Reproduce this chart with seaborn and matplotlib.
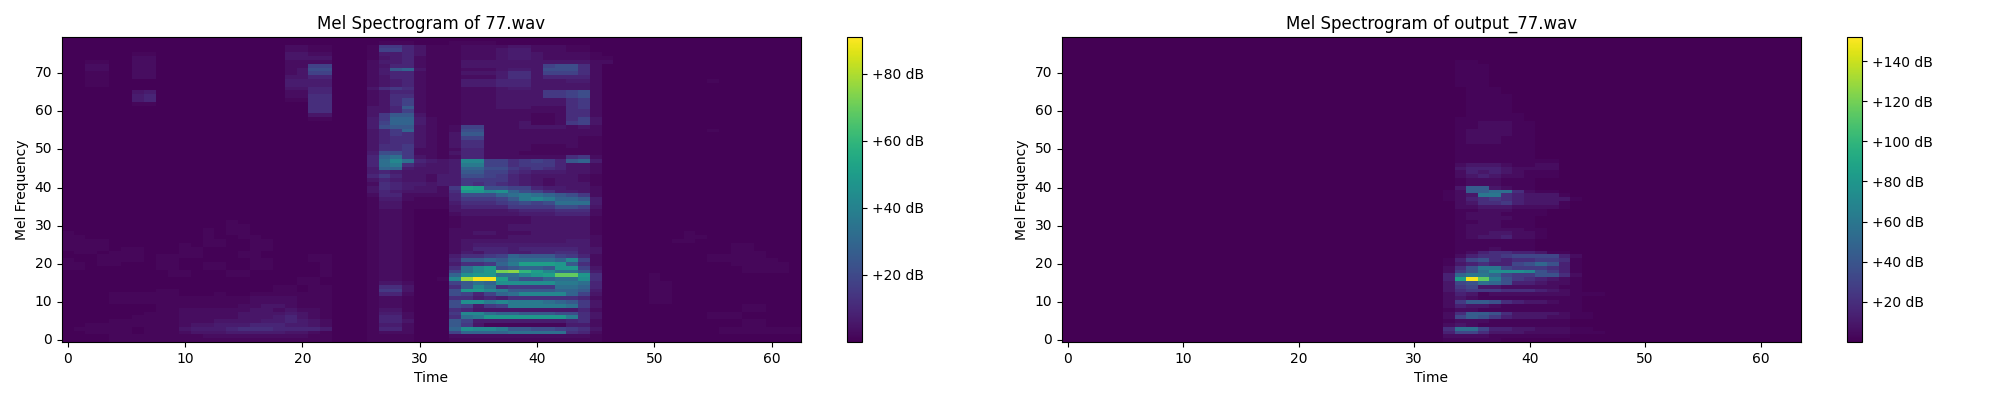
import numpy as np
import seaborn as sns
import matplotlib.pyplot as plt

# Values, one base-36 digit per frame, looked up in the
# level tables below. Top row is mel band 79.
input_title = "Mel Spectrogram of 77.wav"
output_title = "Mel Spectrogram of output_77.wav"
input_vmax = 91
output_vmax = 152
input_cbar_ticks = [20, 40, 60, 80]
output_cbar_ticks = [20, 40, 60, 80, 100, 120, 140]
time_ticks = [0, 10, 20, 30, 40, 50, 60]
mel_ticks = [0, 10, 20, 30, 40, 50, 60, 70]

input_level_db = [0.5, 1.5, 3, 5, 7, 9.5, 12, 15, 18, 21, 25, 29, 33, 37, 42, 45,
                  48, 51, 54, 57, 60, 63, 66, 69, 72, 75, 78, 81, 84, 87, 90]
output_level_db = [0, 2, 5, 9, 14, 20, 26, 32, 38, 44, 50, 55, 60, 65, 70, 75,
                   80, 85, 90, 95, 100, 105, 110, 115, 120, 125, 130, 135, 140, 145, 150]

input_rows = [
    "0000000000 0000000000 0000000000 0000000000 0000000000 0000000000 000",
    "0000000000 0000000000 0000000111 0001111000 0000000000 0000000000 000",
    "0000000000 0000000002 2110001775 3111222233 2221100000 0000000000 000",
    "0000000000 0000000002 2110001885 3111222344 2221100000 0000000000 000",
    "0000001100 0000000003 3220001445 3111222344 3222210000 0000000000 000",
    "0000002200 0000000003 3330001345 2111222344 3222211000 0000000000 000",
    "0011002200 0000000002 2220002445 2111333333 3333322000 0000000000 000",
    "0022002200 0000000002 2880002355 2111333333 3899620000 0000000000 000",
    "0022002200 0000000002 3990002 4ab 3111222344 3999620000 0000000000 000",
    "0011002200 0000000002 3880002455 2111333466 3888620000 0000000000 000",
    "0011002200 0000000003 3550002355 2111222466 3555520000 0000000000 000",
    "0011000000 0000000004 4440002345 2111444555 3334420000 0000010000 000",
    "0011000000 0000000004 4440002345 2111444555 3333320000 0000000000 000",
    "0000000000 0000000003 3550003676 2111222344 3333320000 0000000000 000",
    "0000003400 0000000002 2550002355 2111222333 3778920000 0000000000 000",
    "0000004500 0000000002 2660002366 2111222333 3778920000 0000000000 000",
    "0000004500 0000000001 1660002368 2111222333 3336720000 0000000000 000",
    "0000001100 0000000000 0660002368 2111222333 3336720000 0000000000 000",
    "0000000000 0000000000 066000335a 2111222333 2226720000 0000000000 000",
    "0000000000 0000000000 0660003358 2111222222 2226620000 0000000000 000",
    "0000000000 0000000000 033000 37aa 3111222222 1126620000 0000000000 000",
    "0000000000 0000000000 011000 47bb 4211222222 1126830000 0000000000 000",
    "0000000000 0000000000 000000 48bb 4211222223 1127830000 0000000000 000",
    "0000000000 0000000000 000000 49aa 3212882223 3332320000 0000000000 000",
    "0000000000 0000000000 000000 357b 3212992222 2222220000 0000010000 000",
    "0000000000 0000000000 000000 3576 3213aa2222 2222220000 0000000000 000",
    "0000000000 0000000000 000000 3566 3213882222 2222110000 0000000000 000",
    "0000000000 0000000000 000000 3566 3213662222 2222110000 0000000000 000",
    "0000000000 0000000000 000000 3667 3213662222 1112110000 0000000000 000",
    "0000000000 0000000000 000000 3667 2212552222 1111110000 0000000000 000",
    "0000000000 0000000000 000000 4997 2213552221 1111110000 0000000000 000",
    "0000000000 0000000000 000000 5bc7 3212552222 2226720000 0000000000 000",
    "0000000000 0000000000 000000 5cec 5434ee8867 875ab40000 0000000000 000",
    "0000000000 0000000000 000000 5cd6 4334dd8867 7753320000 0000000000 000",
    "0000000000 0000000000 000000 4bb4 3334bb9976 7653320000 0000000000 000",
    "0000000000 0000000000 000000 4543 3334aa8865 4443320000 0000000000 000",
    "0000000000 0000000000 000000 5753 3244998754 3333210000 0000000000 000",
    "0000000000 0000000000 000000 3543 3244777754 3233210000 0000000000 000",
    "0000000000 0000000000 000000 2654 4344767654 3233310000 0000000000 000",
    "0000000000 0000000000 000000 3654 3327ih9988 5443320000 0000000000 000",
    "0000000000 0000000000 000000 3543 3326ggefb9 8644320000 0000000000 000",
    "0000000000 0000000000 000000 2552 2225999bcd cba9720000 0000000000 000",
    "0000000000 0000000000 000000 1442 1115777 8ad edbba40000 0000000000 000",
    "0000000000 0000000000 000000 1331 1114666789 89ccc40000 0000000000 000",
    "0000000000 0000000000 000000 1331 1113555577 7799830000 0000000000 000",
    "0000000000 0000000000 000000 1221 0003333345 5566620000 0000000000 000",
    "0000000000 0000000000 000000 1221 0002333334 4455520000 0000000000 000",
    "0000000000 0000000000 000000 1221 0001222222 3333310000 0000000000 000",
    "0000000000 0000100000 000000 1221 0001222222 3333310000 0000000000 000",
    "0000000000 0000110000 000000 1221 0001222233 3333310000 0000000000 000",
    "0000000000 0010110000 000000 1221 0002222233 3333310000 0000000000 000",
    "1000000000 0010110000 000000 1221 0002233222 3333310000 0001000000 000",
    "1100000000 0010011000 000000 1221 0002222233 3333320000 0001100000 000",
    "1111000000 0011001100 000000 1221 0002333333 3334420000 0011000000 000",
    "1111000000 1011001100 000000 1221 0002344444 4444420000 0000000110 000",
    "1111011000 1100001100 000000 1221 0002355545 5555430000 0000000110 000",
    "0110111000 1100011000 000000 1221 0002435544 5566430000 0000000111 000",
    "0001111011 1100011000 011000 1221 0004667 8ba aa87520000 0000011111 000",
    "1001111011 0000001100 011000 1221 0005aabacc ccbe820000 0000011111 100",
    "1101100011 0011001100 001000 1221 0004667bdh hhga620000 0000000111 110",
    "1100000011 0011001100 001000 1221 0006ceg9ab bagg830000 0000000011 110",
    "0000000001 1000110000 001000 1221 0008cegopk hecca40000 0000000011 110",
    "0000000001 1000110000 001000 1221 000bfggcce ghnng60000 1000000000 000",
    "0000000000 0000000000 110000 1221 001equuhb9 9bccf60000 1000000000 000",
    "0000000000 0000000000 110000 1332 0008acbfff ffddc50000 1100000000 000",
    "0000000000 0000000011 011000 1663 0006aec677 77ccb50000 1100000000 000",
    "0000000011 0000000011 011000 1773 0009ggedaa aabba40000 1100000000 000",
    "0000111111 0001001111 111000 1552 000985 8bce eeeb830000 1100000000 000",
    "0000111111 1111112222 111000 1221 0006645466 6666520000 1100000000 000",
    "0000111111 1111112222 111000 1221 0009ffdedd dcba730000 1100000000 000",
    "0000000011 1111122332 111000 1221 0009847 8dd dddc730000 0000000011 000",
    "0000000011 2222223323 221000 1331 0006533333 3333520000 0000000011 000",
    "0000000111 2222233334 321000 1442 0007eecbba aa99630000 0000011100 000",
    "0000001111 2222233345 321000 1552 0006cdgggg gggd630000 0000011100 000",
    "0000111111 2223333445 432000 1553 000a844444 4445620000 0000000011 000",
    "0011111111 2334445554 432000 1442 000a731111 1114420000 0000000011 000",
    "0111110111 3444566655 554000 1552 000bfeedaa 9987630000 0000001111 111",
    "0011110111 2333444443 321000 1222 0008bbbbcc ccc6520000 0000001111 111",
    "0000111111 1122222222 211000 1111 0002222222 2222210000 0000000000 000",
    "0000111111 1111111111 111000 1111 0001111111 1111110000 0000000000 000",
]

output_rows = [
    "0000000000 0000000000 0000000000 0000000000 0000000000 0000000000 0000",
    "0000000000 0000000000 0000000000 0000000000 0000000000 0000000000 0000",
    "0000000000 0000000000 0000000000 0000000000 0000000000 0000000000 0000",
    "0000000000 0000000000 0000000000 0000000000 0000000000 0000000000 0000",
    "0000000000 0000000000 0000000000 0000000000 0000000000 0000000000 0000",
    "0000000000 0000000000 0000000000 0000000000 0000000000 0000000000 0000",
    "0000000000 0000000000 0000000000 0000110000 0000000000 0000000000 0000",
    "0000000000 0000000000 0000000000 0000111000 0000000000 0000000000 0000",
    "0000000000 0000000000 0000000000 0000111000 0000000000 0000000000 0000",
    "0000000000 0000000000 0000000000 0000111000 0000000000 0000000000 0000",
    "0000000000 0000000000 0000000000 0000111000 0000000000 0000000000 0000",
    "0000000000 0000000000 0000000000 0000111000 0000000000 0000000000 0000",
    "0000000000 0000000000 0000000000 0000111000 0000000000 0000000000 0000",
    "0000000000 0000000000 0000000000 0000011100 0000000000 0000000000 0000",
    "0000000000 0000000000 0000000000 0000011100 0000000000 0000000000 0000",
    "0000000000 0000000000 0000000000 0000011110 0000000000 0000000000 0000",
    "0000000000 0000000000 0000000000 0000011110 0000000000 0000000000 0000",
    "0000000000 0000000000 0000000000 0000011110 0000000000 0000000000 0000",
    "0000000000 0000000000 0000000000 0000011110 0000000000 0000000000 0000",
    "0000000000 0000000000 0000000000 0000011110 0000000000 0000000000 0000",
    "0000000000 0000000000 0000000000 0000011111 0000000000 0000000000 0000",
    "0000000000 0000000000 0000000000 0000111111 0000000000 0000000000 0000",
    "0000000000 0000000000 0000000000 0000112221 1000000000 0000000000 0000",
    "0000000000 0000000000 0000000000 0000112221 1000000000 0000000000 0000",
    "0000000000 0000000000 0000000000 0000122221 1000000000 0000000000 0000",
    "0000000000 0000000000 0000000000 0000122221 1000000000 0000000000 0000",
    "0000000000 0000000000 0000000000 0000122211 1000000000 0000000000 0000",
    "0000000000 0000000000 0000000000 0000122211 1000000000 0000000000 0000",
    "0000000000 0000000000 0000000000 0000111111 1000000000 0000000000 0000",
    "0000000000 0000000000 0000000000 0000111111 1000000000 0000000000 0000",
    "0000000000 0000000000 0000000000 0000111111 1000000000 0000000000 0000",
    "0000000000 0000000000 0000000000 0000111111 1000000000 0000000000 0000",
    "0000000000 0000000000 0000000000 0000111111 1110000000 0000000000 0000",
    "0000000000 0000000000 0000000000 0000233321 1220000000 0000000000 0000",
    "0000000000 0000000000 0000000000 0000344432 2220000000 0000000000 0000",
    "0000000000 0000000000 0000000000 0000243432 1110000000 0000000000 0000",
    "0000000000 0000000000 0000000000 0000234322 1110000000 0000000000 0000",
    "0000000000 0000000000 0000000000 0000122211 1000000000 0000000000 0000",
    "0000000000 0000000000 0000000000 0000122211 1000000000 0000000000 0000",
    "0000000000 0000000000 0000000000 0000399321 1000000000 0000000000 0000",
    "0000000000 0000000000 0000000000 0001299bb5 2110000000 0000000000 0000",
    "0000000000 0000000000 0000000000 000123cc54 3331000000 0000000000 0000",
    "0000000000 0000000000 0000000000 0001245654 3333100000 0000000000 0000",
    "0000000000 0000000000 0000000000 0000235564 3331000000 0000000000 0000",
    "0000000000 0000000000 0000000000 0000223332 2221000000 0000000000 0000",
    "0000000000 0000000000 0000000000 0000112221 1100000000 0000000000 0000",
    "0000000000 0000000000 0000000000 0000122211 1100000000 0000000000 0000",
    "0000000000 0000000000 0000000000 0000122221 1000000000 0000000000 0000",
    "0000000000 0000000000 0000000000 0000112211 1000000000 0000000000 0000",
    "0000000000 0000000000 0000000000 0000122211 1000000000 0000000000 0000",
    "0000000000 0000000000 0000000000 0000122222 1100000000 0000000000 0000",
    "0000000000 0000000000 0000000000 0000122332 2100000000 0000000000 0000",
    "0000000000 0000000000 0000000000 0000123342 2100000000 0000000000 0000",
    "0000000000 0000000000 0000000000 0000111111 1000000000 0000000000 0000",
    "0000000000 0000000000 0000000000 0000111111 1000000000 0000000000 0000",
    "0000000000 0000000000 0000000000 0000111211 1000000000 0000000000 0000",
    "0000000000 0000000000 0000000000 0000124554 4311000000 0000000000 0000",
    "0000000000 0000000000 0000000000 0000245567 7774200000 0000000000 0000",
    "0000000000 0000000000 0000000000 0001478545 5665100000 0000000000 0000",
    "0000000000 0000000000 0000000000 0001345447 8a84100000 0000000000 0000",
    "0000000000 0000000000 0000000000 00025 8cc76 6654100000 0000000000 0000",
    "0000000000 0000000000 0000000000 000268bfff e864100000 0000000000 0000",
    "0000000000 0000000000 0000000000 0004acca76 6885200000 0000000000 0000",
    "0000000000 0000000000 0000000000 0004hund86 5432100000 0000000000 0000",
    "0000000000 0000000000 0000000000 000378ba84 4322100000 0000000000 0000",
    "0000000000 0000000000 0000000000 0003673322 2221100000 0000000000 0000",
    "0000000000 0000000000 0000000000 0003566655 5432100000 0000000000 0000",
    "0000000000 0000000000 0000000000 0002431222 2222111000 0000000000 0000",
    "0000000000 0000000000 0000000000 0002321111 1111100000 0000000000 0000",
    "0000000000 0000000000 0000000000 0002699854 3321100000 0000000000 0000",
    "0000000000 0000000000 0000000000 0002433211 1111100000 0000000000 0000",
    "0000000000 0000000000 0000000000 0001221111 1111100000 0000000000 0000",
    "0000000000 0000000000 0000000000 0002599853 3332110000 0000000000 0000",
    "0000000000 0000000000 0000000000 0002798643 3322110000 0000000000 0000",
    "0000000000 0000000000 0000000000 0001222111 1111000000 0000000000 0000",
    "0000000000 0000000000 0000000000 0002321111 1111000000 0000000000 0000",
    "0000000000 0000000000 0000000000 0005bb7443 3222110000 0000000000 0000",
    "0000000000 0000000000 0000000000 0004775333 2222111000 0000000000 0000",
    "0000000000 0000000000 0000000000 0002222111 1111000000 0000000000 0000",
    "0000000000 0000000000 0000000000 0001111100 0000000000 0000000000 0000",
]


def decode(rows, level_db, frames):
    cleaned = [r.replace(" ", "") for r in rows]
    bad = [i for i, r in enumerate(cleaned) if len(r) != frames]
    assert not bad and len(cleaned) == 80, (bad, len(cleaned))
    levels = [[level_db[int(c, 36)] for c in r] for r in cleaned]
    return np.array(levels, dtype=float)[::-1]


def draw(ax, cax, rows, level_db, frames, vmax, title, cbar_ticks):
    data = decode(rows, level_db, frames)
    sns.heatmap(data, ax=ax, cbar_ax=cax, cmap="viridis", vmin=0, vmax=vmax,
                cbar_kws={"format": "%+2.0f dB", "ticks": cbar_ticks})
    ax.invert_yaxis()
    # imshow style ticks: band n sits in the middle of its cell
    ax.set_xticks([t + 0.5 for t in time_ticks], labels=time_ticks, rotation=0)
    ax.set_yticks([m + 0.5 for m in mel_ticks], labels=mel_ticks, rotation=0)
    ax.set_title(title)
    ax.set_xlabel("Time")
    ax.set_ylabel("Mel Frequency")
    for spine in ax.spines.values():
        spine.set_visible(True)
    cbar = ax.collections[0].colorbar
    cbar.outline.set_visible(True)
    cbar.outline.set_linewidth(0.8)


W, H = 2000.0, 400.0
fig = plt.figure(figsize=(20, 4), dpi=100)
top, bottom = 37, 342


def box(x0, x1):
    return [x0 / W, 1 - bottom / H, (x1 - x0) / W, (bottom - top) / H]


ax1 = fig.add_axes(box(62, 801))
cax1 = fig.add_axes(box(847, 862))
ax2 = fig.add_axes(box(1062, 1801))
cax2 = fig.add_axes(box(1847, 1862))

draw(ax1, cax1, input_rows, input_level_db, 63, input_vmax, input_title, input_cbar_ticks)
draw(ax2, cax2, output_rows, output_level_db, 64, output_vmax, output_title, output_cbar_ticks)

fig.savefig("out.png", dpi=100)
